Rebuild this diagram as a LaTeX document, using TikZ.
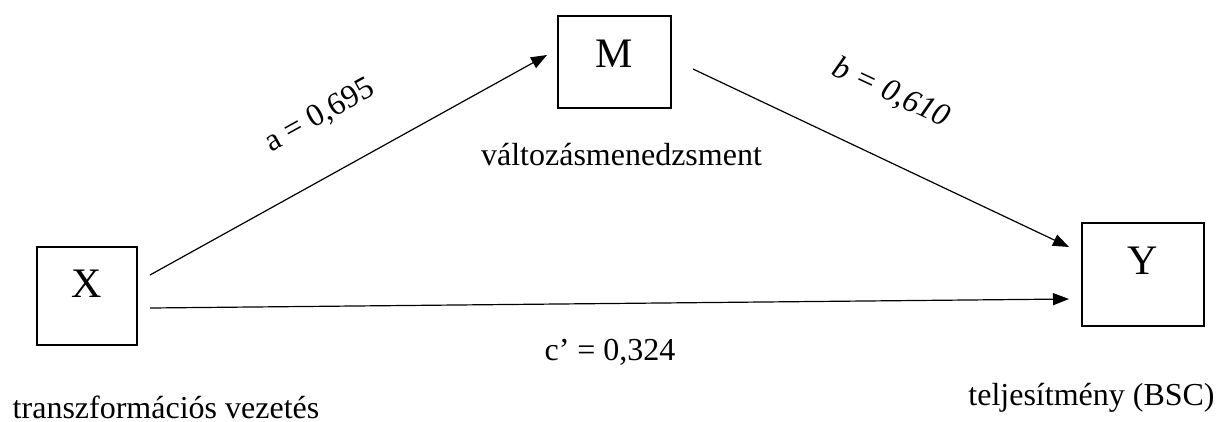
\documentclass[tikz,border=0pt]{standalone}
\usepackage{fontspec}
\setmainfont{Liberation Serif}
\usetikzlibrary{arrows.meta}
\begin{document}
\begin{tikzpicture}[x=1pt,y=-1pt,
  box/.style={draw, line width=1.6pt, inner sep=0pt},
  letter/.style={font=\fontsize{42}{46}\selectfont, inner sep=0pt},
  lbl/.style={font=\fontsize{32}{36}\selectfont, inner sep=0pt},
  ilbl/.style={font=\fontsize{32}{36}\selectfont\itshape, inner sep=0pt},
  arr/.style={line width=1.2pt, -{Triangle[length=16pt,width=12pt]}}]
\useasboundingbox (0,0) rectangle (1218,421);
\node[box, minimum width=100pt, minimum height=98pt] (X) at (87,296) {};
\node[letter] (Xl) at (87,284) {X};
\node[box, minimum width=113pt, minimum height=92pt] (M) at (614.5,62) {};
\node[letter] (Ml) at (614.5,54) {M};
\node[box, minimum width=122pt, minimum height=103pt] (Y) at (1143,274.5) {};
\node[letter] (Yl) at (1143,261) {Y};
\coordinate (xm1) at (150,275);
\coordinate (xm2) at (547,55);
\coordinate (my1) at (693,69);
\coordinate (my2) at (1069,247);
\coordinate (xy1) at (150,308);
\coordinate (xy2) at (1069,299);
\draw[arr] (xm1) -- (xm2);
\draw[arr] (my1) -- (my2);
\draw[arr] (xy1) -- (xy2);
\node[lbl, rotate=29] (la) at (320,116) {a = 0,695};
\node[ilbl, rotate=-25] (lb) at (891,93) {b = 0,610};
\node[lbl, anchor=base] (lc) at (610,360) {c’ = 0,324};
\node[lbl, anchor=base] (tM) at (621.5,165) {változásmenedzsment};
\node[lbl, anchor=base] (tX) at (166,418) {transzformációs vezetés};
\node[lbl, anchor=base] (tY) at (1091.5,405) {teljesítmény (BSC)};
\end{tikzpicture}
\end{document}
